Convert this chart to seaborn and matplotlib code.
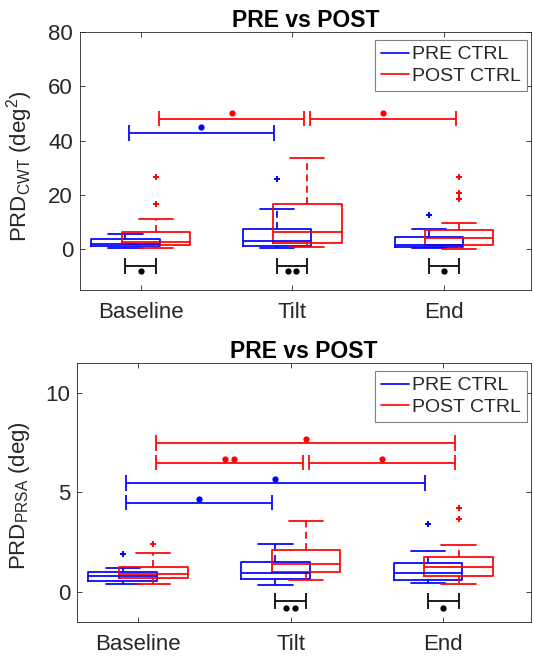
import numpy as np
import pandas as pd
import matplotlib
matplotlib.use("Agg")
import matplotlib.pyplot as plt
from matplotlib.lines import Line2D
import seaborn as sns

# ---------------- data ----------------
categories = ["Baseline", "Tilt", "End"]
groups = ["PRE CTRL", "POST CTRL"]
group_colors = ["#0000ff", "#ff0000"]

# PRD_CWT (deg^2)
cwt_pre_baseline = [0.6, 0.8, 1.0, 1.2, 1.35, 1.5, 1.7, 1.9, 2.0, 2.3, 2.7, 3.2, 3.6, 4.0, 4.6, 5.1, 5.5]
cwt_post_baseline = [0.5, 0.8, 1.0, 1.3, 1.5, 1.7, 1.9, 2.2, 2.5, 3.2, 4.1, 5.3, 6.4, 7.8, 11.1, 16.7, 26.5]
cwt_pre_tilt = [0.5, 0.7, 0.9, 1.1, 1.35, 1.8, 2.3, 2.7, 3.1, 3.9, 5.0, 6.2, 7.4, 9.0, 11.5, 14.9, 26.0]
cwt_post_tilt = [0.7, 1.0, 1.4, 1.9, 2.3, 3.0, 3.9, 5.0, 6.2, 7.8, 10.0, 13.5, 16.8, 20.0, 24.0, 28.5, 33.5]
cwt_pre_end = [0.4, 0.5, 0.6, 0.75, 0.9, 1.1, 1.3, 1.5, 1.7, 2.2, 2.9, 3.7, 4.5, 5.3, 6.2, 7.4, 12.7]
cwt_post_end = [0.25, 0.6, 1.0, 1.4, 1.7, 2.3, 2.9, 3.6, 4.2, 4.9, 5.6, 6.3, 7.0, 9.8, 18.5, 20.8, 26.5]

# PRD_PRSA (deg)
prsa_pre_baseline = [0.42, 0.47, 0.51, 0.54, 0.57, 0.62, 0.68, 0.74, 0.79, 0.84, 0.90, 0.96, 1.02, 1.08, 1.15, 1.22, 1.92]
prsa_post_baseline = [0.40, 0.50, 0.58, 0.64, 0.69, 0.75, 0.81, 0.87, 0.92, 0.98, 1.06, 1.16, 1.27, 1.42, 1.60, 1.94, 2.40]
prsa_pre_tilt = [0.35, 0.45, 0.52, 0.58, 0.64, 0.72, 0.80, 0.89, 0.97, 1.08, 1.21, 1.36, 1.52, 1.70, 1.92, 2.15, 2.43]
prsa_post_tilt = [0.62, 0.72, 0.82, 0.92, 1.02, 1.12, 1.22, 1.31, 1.41, 1.55, 1.72, 1.90, 2.11, 2.40, 2.75, 3.10, 3.55]
prsa_pre_end = [0.47, 0.51, 0.54, 0.57, 0.60, 0.68, 0.76, 0.85, 0.94, 1.04, 1.16, 1.30, 1.44, 1.60, 1.80, 2.04, 3.42]
prsa_post_end = [0.42, 0.55, 0.64, 0.72, 0.79, 0.90, 1.02, 1.14, 1.26, 1.38, 1.50, 1.62, 1.74, 1.95, 2.35, 3.68, 4.24]

# significance annotations
# within-category PRE vs POST (black): category, number of dots
cwt_within_cats = ["Baseline", "Tilt", "End"]
cwt_within_dots = [1, 2, 1]
cwt_within_y = -6.2
cwt_within_doty = -8.0
prsa_within_cats = ["Tilt", "End"]
prsa_within_dots = [2, 1]
prsa_within_y = -0.44
prsa_within_doty = -0.80

# between-category brackets: group, from, to, line level, dot level, number of dots
cwt_between_group = ["POST CTRL", "POST CTRL", "PRE CTRL"]
cwt_between_from = ["Baseline", "Tilt", "Baseline"]
cwt_between_to = ["Tilt", "End", "Tilt"]
cwt_between_y = [48.1, 48.1, 42.9]
cwt_between_doty = [50.0, 50.0, 45.0]
cwt_between_dots = [1, 1, 1]

prsa_between_group = ["POST CTRL", "POST CTRL", "POST CTRL", "PRE CTRL", "PRE CTRL"]
prsa_between_from = ["Baseline", "Baseline", "Tilt", "Baseline", "Baseline"]
prsa_between_to = ["End", "Tilt", "End", "End", "Tilt"]
prsa_between_y = [7.49, 6.50, 6.50, 5.49, 4.49]
prsa_between_doty = [7.69, 6.68, 6.68, 5.69, 4.69]
prsa_between_dots = [1, 2, 1, 1, 1]

cwt_yticks = [0, 20, 40, 60, 80]
prsa_yticks = [0, 5, 10]

# ---------------- style ----------------
sns.set_theme(style="white")
plt.rcParams["font.family"] = ["Liberation Sans", "DejaVu Sans"]
plt.rcParams["mathtext.fontset"] = "custom"
plt.rcParams["mathtext.rm"] = "Liberation Sans"
plt.rcParams["mathtext.it"] = "Liberation Sans:italic"
plt.rcParams["mathtext.bf"] = "Liberation Sans:bold"

AX_COLOR = "#262626"
OFFSET = {"PRE CTRL": -0.1, "POST CTRL": 0.1}
COLOR = dict(zip(groups, group_colors))
BOX_W = 0.45
INSET = 0.02
DOT_SEP = 0.056
LW = 1.25


def make_frame(arrs):
    rows = []
    for (cat, grp), vals in arrs.items():
        pos = categories.index(cat) + 1 + OFFSET[grp]
        for v in vals:
            rows.append({"pos": pos, "group": grp, "value": v})
    return pd.DataFrame(rows)


cwt_df = make_frame({
    ("Baseline", "PRE CTRL"): cwt_pre_baseline, ("Baseline", "POST CTRL"): cwt_post_baseline,
    ("Tilt", "PRE CTRL"): cwt_pre_tilt, ("Tilt", "POST CTRL"): cwt_post_tilt,
    ("End", "PRE CTRL"): cwt_pre_end, ("End", "POST CTRL"): cwt_post_end,
})
prsa_df = make_frame({
    ("Baseline", "PRE CTRL"): prsa_pre_baseline, ("Baseline", "POST CTRL"): prsa_post_baseline,
    ("Tilt", "PRE CTRL"): prsa_pre_tilt, ("Tilt", "POST CTRL"): prsa_post_tilt,
    ("End", "PRE CTRL"): prsa_pre_end, ("End", "POST CTRL"): prsa_post_end,
})


def center(cat, grp):
    return categories.index(cat) + 1 + OFFSET[grp]


def bracket(ax, x0, x1, y, half, color):
    ax.plot([x0, x1], [y, y], color=color, lw=LW, solid_capstyle="butt")
    ax.plot([x0, x0], [y - half, y + half], color=color, lw=LW, solid_capstyle="butt")
    ax.plot([x1, x1], [y - half, y + half], color=color, lw=LW, solid_capstyle="butt")


def dots(ax, xc, y, n, color):
    xs = [xc + (i - (n - 1) / 2) * DOT_SEP for i in range(n)]
    ax.plot(xs, [y] * n, "o", color=color, markersize=4.5, markeredgewidth=0)


def panel(ax, df, ylim, yticks, ylabel, half,
          w_cats, w_dots, w_y, w_doty,
          b_grp, b_from, b_to, b_y, b_doty, b_dots):
    for grp in groups:
        c = COLOR[grp]
        sns.boxplot(data=df[df["group"] == grp], x="pos", y="value",
                    native_scale=True, width=BOX_W, fill=False, color=c,
                    linewidth=LW,
                    whiskerprops=dict(linestyle=(0, (4, 2.5)), color=c),
                    capprops=dict(color=c),
                    medianprops=dict(color=c),
                    boxprops=dict(color=c),
                    flierprops=dict(marker="+", markersize=5, markeredgecolor=c,
                                    markerfacecolor=c, markeredgewidth=1.4),
                    ax=ax)
    # within-category brackets (black)
    for cat, nd in zip(w_cats, w_dots):
        x0, x1 = center(cat, "PRE CTRL"), center(cat, "POST CTRL")
        bracket(ax, x0, x1, w_y, half, "black")
        dots(ax, (x0 + x1) / 2, w_doty, nd, "black")
    # between-category brackets
    for g, f, t, y, dy, nd in zip(b_grp, b_from, b_to, b_y, b_doty, b_dots):
        x0, x1 = center(f, g) + INSET, center(t, g) - INSET
        bracket(ax, x0, x1, y, half, COLOR[g])
        dots(ax, (x0 + x1) / 2, dy, nd, COLOR[g])

    ax.set_xlim(0.6, 3.575)
    ax.set_ylim(*ylim)
    ax.set_xticks([1, 2, 3])
    ax.set_xticklabels(categories)
    ax.set_yticks(yticks)
    ax.set_xlabel("")
    ax.set_ylabel(ylabel, fontsize=16, color=AX_COLOR)
    ax.set_title("PRE vs POST", fontsize=16.5, fontweight="bold", pad=3.5, color="black")
    for s in ax.spines.values():
        s.set_visible(True)
        s.set_color(AX_COLOR)
        s.set_linewidth(0.6)
    ax.tick_params(axis="both", which="both", direction="in", length=3.5, width=0.6,
                   color=AX_COLOR, labelcolor=AX_COLOR, labelsize=16,
                   top=True, right=True, bottom=True, left=True)
    ax.tick_params(axis="x", pad=8.5)
    ax.tick_params(axis="y", pad=5)
    ax.grid(False)
    handles = [Line2D([0], [0], color=COLOR[g], lw=1.2) for g in groups]
    leg = ax.legend(handles, groups, loc="upper right", bbox_to_anchor=(0.991, 0.969),
                    borderaxespad=0, fontsize=14, frameon=True, fancybox=False,
                    edgecolor="#808080", framealpha=1, handlelength=1.45,
                    handletextpad=0.15, labelspacing=0.2, borderpad=0.3)
    leg.get_frame().set_linewidth(0.8)


fig = plt.figure(figsize=(5.34, 6.59), dpi=100)
ax1 = fig.add_axes([80 / 534, 1 - 290 / 659, 451 / 534, 258 / 659])
ax2 = fig.add_axes([77 / 534, 1 - 622 / 659, 454 / 534, 259 / 659])

panel(ax1, cwt_df, (-15, 80), cwt_yticks, r"PRD$_{\mathrm{CWT}}$ (deg$^{2}$)", 2.88,
      cwt_within_cats, cwt_within_dots, cwt_within_y, cwt_within_doty,
      cwt_between_group, cwt_between_from, cwt_between_to, cwt_between_y,
      cwt_between_doty, cwt_between_dots)
panel(ax2, prsa_df, (-1.5, 11.5), prsa_yticks, r"PRD$_{\mathrm{PRSA}}$ (deg)", 0.39,
      prsa_within_cats, prsa_within_dots, prsa_within_y, prsa_within_doty,
      prsa_between_group, prsa_between_from, prsa_between_to, prsa_between_y,
      prsa_between_doty, prsa_between_dots)

ax1.yaxis.set_label_coords(-0.1, 0.48)
ax2.yaxis.set_label_coords(-0.1, 0.49)

fig.savefig("out.png", dpi=100)
